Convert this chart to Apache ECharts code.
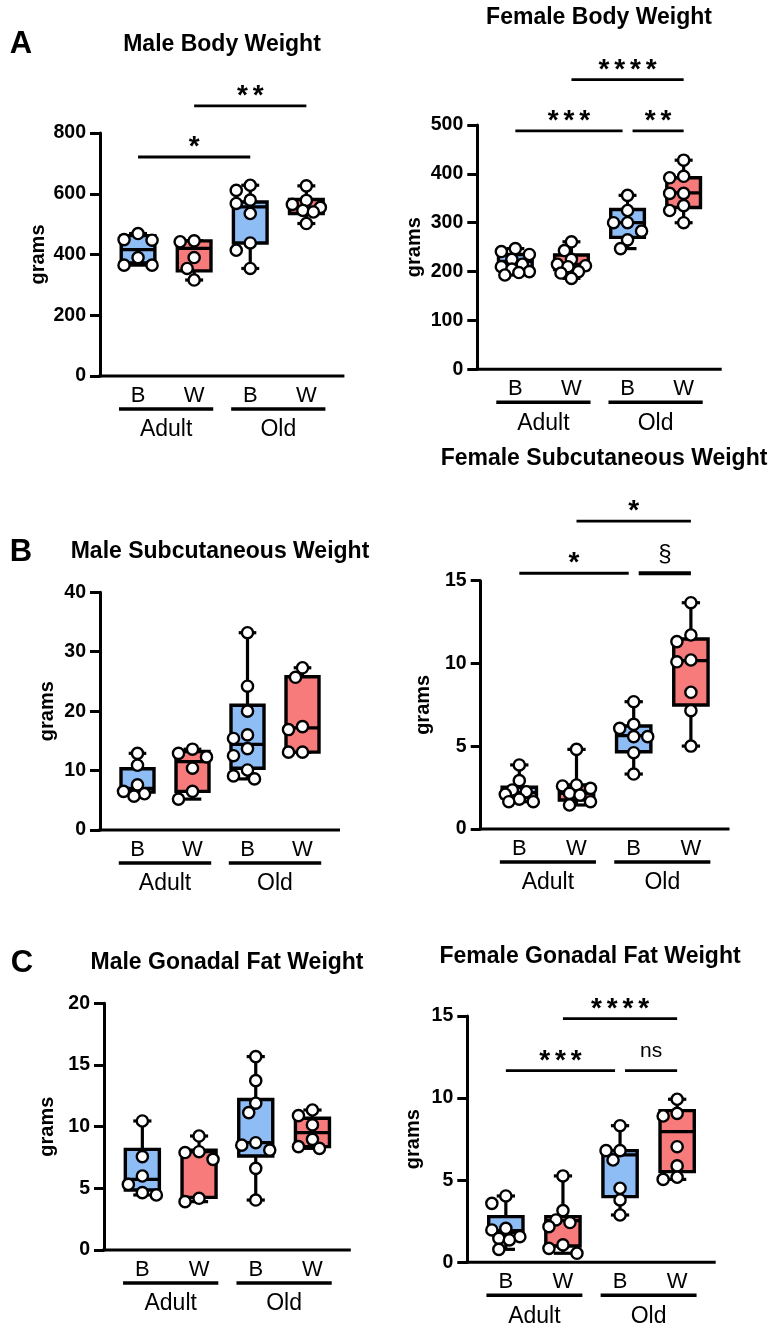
<!DOCTYPE html>
<html><head><meta charset="utf-8">
<script src="https://cdn.jsdelivr.net/npm/echarts@6/dist/echarts.min.js"></script>
<style>html,body{margin:0;padding:0;background:#fff}#c{width:778px;height:1329px}</style>
</head><body><div id="c"></div>
<script>
// ---------- data ----------
const categories = ['B', 'W', 'B', 'W'];
const ageGroups = ['Adult', 'Old'];

// box stats: [min, Q1, median, Q3, max]
const maleBodyTicks = [0, 200, 400, 600, 800];
const maleBodyBox = [[365, 372, 416, 462, 469], [316, 346, 420, 445, 445], [354, 438, 557, 573, 628], [502, 535, 555, 581, 626]];
const maleBodyPts = [[469, 449, 447, 390, 365, 365], [445, 442, 390, 354, 316], [628, 611, 579, 568, 535, 438, 414, 354], [626, 578, 565, 555, 545, 540, 502]];
const maleBodySig = [{from: 0, to: 2, label: '*', y: 721}, {from: 1, to: 3, label: '**', y: 889}];

const femaleBodyTicks = [0, 100, 200, 300, 400, 500];
const femaleBodyBox = [[193, 210, 221, 235, 247], [186, 204, 215, 234, 261], [247, 270, 300, 327, 356], [300, 331, 361, 392, 428]];
const femaleBodyPts = [[247, 241, 235, 225, 215, 210, 205, 200, 198, 193], [261, 243, 225, 215, 212, 210, 200, 197, 186], [356, 325, 300, 300, 283, 265, 247], [428, 395, 392, 360, 360, 335, 325, 300]];
const femaleBodySig = [{from: 0, to: 2, label: '***', y: 488}, {from: 2, to: 3, label: '**', y: 488}, {from: 1, to: 3, label: '****', y: 593}];

const maleSubQTicks = [0, 10, 20, 30, 40];
const maleSubQBox = [[5.7, 6.4, 7.0, 10.3, 12.9], [5.2, 6.5, 11.5, 13.2, 13.6], [8.6, 10.4, 14.4, 21.0, 33.2], [13.1, 13.1, 17.2, 25.8, 27.3]];
const maleSubQPts = [[12.9, 10.9, 7.6, 6.5, 6.1, 5.7], [13.6, 12.9, 12.3, 10.4, 6.5, 5.2], [33.2, 24.2, 20.0, 16.0, 15.4, 13.7, 12.5, 10.1, 9.1, 8.6], [27.3, 25.7, 17.4, 16.9, 13.1, 13.1]];
const maleSubQSig = [];

const femaleSubQTicks = [0, 5, 10, 15];
const femaleSubQBox = [[1.65, 1.89, 2.2, 2.52, 3.87], [1.45, 1.75, 2.15, 2.66, 4.81], [3.32, 4.67, 5.64, 6.22, 7.69], [5.01, 7.49, 10.17, 11.48, 13.67]];
const femaleSubQPts = [[3.87, 2.92, 2.36, 2.25, 2.1, 1.8, 1.65, 1.65], [4.81, 2.66, 2.6, 2.46, 2.15, 2.05, 1.65, 1.45], [7.69, 6.32, 6.08, 5.58, 5.58, 4.61, 3.32], [13.67, 11.72, 11.32, 10.21, 10.1, 8.26, 7.15, 5.01]];
const femaleSubQSig = [{from: 0, to: 2, label: '*', y: 15.45}, {from: 2, to: 3, label: '§', y: 15.45}, {from: 1, to: 3, label: '*', y: 18.6}];

const maleGonTicks = [0, 5, 10, 15, 20];
const maleGonBox = [[4.46, 4.86, 5.73, 8.16, 10.46], [3.92, 4.27, 7.97, 8.1, 9.24], [4.05, 7.62, 8.7, 12.2, 15.68], [8.24, 8.38, 9.51, 10.68, 11.35]];
const maleGonPts = [[10.46, 7.57, 6.0, 5.32, 4.65, 4.46], [9.24, 7.97, 7.9, 7.35, 4.19, 3.92], [15.68, 13.73, 11.9, 11.14, 8.7, 8.5, 8.1, 6.62, 4.05], [11.35, 10.89, 10.14, 8.97, 8.38, 8.24]];
const maleGonSig = [];

const femaleGonTicks = [0, 5, 10, 15];
const femaleGonBox = [[0.79, 1.81, 1.93, 2.78, 4.04], [0.55, 0.99, 2.54, 2.78, 5.26], [2.88, 4.0, 6.54, 6.8, 8.32], [5.05, 5.52, 7.96, 9.24, 9.93]];
const femaleGonPts = [[4.04, 3.59, 2.07, 1.97, 1.56, 1.46, 1.36, 0.79], [5.26, 3.15, 2.58, 2.42, 2.17, 1.06, 0.85, 0.55], [8.32, 6.8, 6.8, 6.23, 4.51, 3.8, 2.88], [9.93, 9.07, 8.91, 7.04, 5.87, 5.18, 5.05]];
const femaleGonSig = [{from: 0, to: 2, label: '***', y: 11.67}, {from: 2, to: 3, label: 'ns', y: 11.67}, {from: 1, to: 3, label: '****', y: 14.84}];

// ---------- layout / style ----------
const FONT = '"Liberation Sans", Arial, Helvetica, sans-serif';
const colors = ['#8ebdf6', '#f77b7b', '#8ebdf6', '#f77b7b'];
const panels = [
  {title: 'Male Body Weight', box: maleBodyBox, pts: maleBodyPts, ticks: maleBodyTicks, sig: maleBodySig,
   grid: {left: 110, top: 133, width: 224.4, height: 243}, nameGap: 52, tx: 222, ty: 45},
  {title: 'Female Body Weight', box: femaleBodyBox, pts: femaleBodyPts, ticks: femaleBodyTicks, sig: femaleBodySig,
   grid: {left: 487.3, top: 125, width: 224.4, height: 244.3}, nameGap: 53, tx: 599, ty: 18},
  {title: 'Male Subcutaneous Weight', box: maleSubQBox, pts: maleSubQPts, ticks: maleSubQTicks, sig: maleSubQSig,
   grid: {left: 110, top: 592.3, width: 220, height: 237.7}, nameGap: 43, tx: 220, ty: 552},
  {title: 'Female Subcutaneous Weight', box: femaleSubQBox, pts: femaleSubQPts, ticks: femaleSubQTicks, sig: femaleSubQSig,
   grid: {left: 490.7, top: 580.7, width: 228.8, height: 248.3}, nameGap: 47, tx: 604, ty: 459},
  {title: 'Male Gonadal Fat Weight', box: maleGonBox, pts: maleGonPts, ticks: maleGonTicks, sig: maleGonSig,
   grid: {left: 114, top: 1003.3, width: 226.8, height: 246.7}, nameGap: 47, tx: 227, ty: 963},
  {title: 'Female Gonadal Fat Weight', box: femaleGonBox, pts: femaleGonPts, ticks: femaleGonTicks, sig: femaleGonSig,
   grid: {left: 477.3, top: 1016, width: 228.4, height: 246.3}, nameGap: 44, tx: 590, ty: 957}
];
const letters = [{t: 'A', x: 21, y: 44}, {t: 'B', x: 21, y: 552}, {t: 'C', x: 22, y: 963}];

function boxRender(params, api) {
  const cat = api.value(0);
  const band = api.size([1, 0])[0];
  const bw = band * 0.6, cw = band * 0.32;
  const pMin = api.coord([cat, api.value(1)]);
  const pQ1 = api.coord([cat, api.value(2)]);
  const pMd = api.coord([cat, api.value(3)]);
  const pQ3 = api.coord([cat, api.value(4)]);
  const pMax = api.coord([cat, api.value(5)]);
  const x = pMd[0];
  const ls = {stroke: '#000', lineWidth: 3.2};
  return {type: 'group', children: [
    {type: 'line', shape: {x1: x, y1: pMax[1], x2: x, y2: pQ3[1]}, style: ls},
    {type: 'line', shape: {x1: x, y1: pQ1[1], x2: x, y2: pMin[1]}, style: ls},
    {type: 'line', shape: {x1: x - cw / 2, y1: pMax[1], x2: x + cw / 2, y2: pMax[1]}, style: ls},
    {type: 'line', shape: {x1: x - cw / 2, y1: pMin[1], x2: x + cw / 2, y2: pMin[1]}, style: ls},
    {type: 'rect', shape: {x: x - bw / 2, y: pQ3[1], width: bw, height: pQ1[1] - pQ3[1]}, style: {fill: colors[cat], stroke: '#000', lineWidth: 3.4}},
    {type: 'line', shape: {x1: x - bw / 2, y1: pMd[1], x2: x + bw / 2, y2: pMd[1]}, style: ls}
  ]};
}

function makePointRender() {
  let placed = {};
  return function (params, api) {
    if (params.dataIndex === 0) placed = {};
    const cat = api.value(0), v = api.value(1);
    const p = api.coord([cat, v]);
    const list = placed[cat] || (placed[cat] = []);
    const offs = [0, -7, 7, -14, 14, -3.5, 3.5, -10.5, 10.5];
    let best = 0, bestD = -1;
    for (const o of offs) {
      const d = list.length ? Math.min(...list.map(q => Math.hypot(q[0] - (p[0] + o), q[1] - p[1]))) : 1e9;
      if (d >= 11) { best = o; bestD = d; break; }
      if (d > bestD) { bestD = d; best = o; }
    }
    list.push([p[0] + best, p[1]]);
    return {type: 'circle', shape: {cx: p[0] + best, cy: p[1], r: 5.6}, style: {fill: '#fff', stroke: '#000', lineWidth: 2.4}};
  };
}

function makeDecor(sig) {
  return function (params, api) {
    const band = api.size([1, 0])[0];
    const c = [0, 1, 2, 3].map(i => api.coord([i, 0]));
    const y0 = c[0][1];
    const ch = [];
    ch.push({type: 'line', shape: {x1: c[0][0] - band / 2 - 11.5, y1: y0, x2: c[3][0] + band / 2 + 10, y2: y0}, style: {stroke: '#000', lineWidth: 3}});
    ageGroups.forEach((g, gi) => {
      const a = c[gi * 2][0] - band * 0.34, b = c[gi * 2 + 1][0] + band * 0.34;
      ch.push({type: 'line', shape: {x1: a, y1: y0 + 33, x2: b, y2: y0 + 33}, style: {stroke: '#000', lineWidth: 3.6}});
      ch.push({type: 'text', x: (a + b) / 2, y: y0 + 54, style: {text: g, fill: '#000', font: '23px ' + FONT, textAlign: 'center', textVerticalAlign: 'middle'}});
    });
    sig.forEach(s => {
      const yy = api.coord([0, s.y])[1];
      let x1 = c[s.from][0], x2 = c[s.to][0];
      if (sig.some(o => o !== s && o.y === s.y && o.to === s.from)) x1 += 5;
      if (sig.some(o => o !== s && o.y === s.y && o.from === s.to)) x2 -= 5;
      ch.push({type: 'line', shape: {x1: x1, y1: yy, x2: x2, y2: yy}, style: {stroke: '#000', lineWidth: s.label === '§' ? 4 : 2.8}});
      const mid = (x1 + x2) / 2;
      if (/^\*+$/.test(s.label)) {
        const n = s.label.length, pitch = 15.7;
        for (let i = 0; i < n; i++) {
          ch.push({type: 'text', x: mid + (i - (n - 1) / 2) * pitch, y: yy - 9.5, style: {text: '*', fill: '#000', font: 'bold 28px ' + FONT, textAlign: 'center', textVerticalAlign: 'middle'}});
        }
      } else {
        ch.push({type: 'text', x: mid, y: yy - 19, style: {text: s.label, fill: '#000', font: (s.label === '§' ? '24px ' : '21px ') + FONT, textAlign: 'center', textVerticalAlign: 'middle'}});
      }
    });
    return {type: 'group', children: ch};
  };
}

const option = {animation: false, backgroundColor: '#fff', grid: [], xAxis: [], yAxis: [], series: [], graphic: []};
panels.forEach((p, i) => {
  option.grid.push(Object.assign({containLabel: false}, p.grid));
  option.xAxis.push({type: 'category', gridIndex: i, data: categories, boundaryGap: true,
    axisLine: {show: false}, axisTick: {show: false},
    axisLabel: {fontSize: 22, color: '#000', fontFamily: FONT, margin: 9}});
  const t = p.ticks;
  option.yAxis.push({type: 'value', gridIndex: i, min: t[0], max: t[t.length - 1], interval: t[1] - t[0], offset: 10,
    name: 'grams', nameLocation: 'middle', nameGap: p.nameGap, nameRotate: 90,
    nameTextStyle: {fontSize: 20, fontWeight: 'bold', color: '#000', fontFamily: FONT},
    axisLine: {show: true, lineStyle: {color: '#000', width: 3}},
    axisTick: {show: true, length: 10, lineStyle: {color: '#000', width: 3}},
    axisLabel: {fontSize: 19.5, fontWeight: 'bold', color: '#000', fontFamily: FONT, margin: 14},
    splitLine: {show: false}});
  option.series.push({type: 'custom', xAxisIndex: i, yAxisIndex: i, z: 1, clip: false,
    renderItem: makeDecor(p.sig), data: [[0, 0]], silent: true});
  option.series.push({type: 'custom', xAxisIndex: i, yAxisIndex: i, z: 2, clip: false,
    renderItem: boxRender, data: p.box.map((b, ci) => [ci].concat(b)), silent: true});
  const pts = [];
  p.pts.forEach((arr, ci) => arr.forEach(v => pts.push([ci, v])));
  option.series.push({type: 'custom', xAxisIndex: i, yAxisIndex: i, z: 3, clip: false,
    renderItem: makePointRender(), data: pts, silent: true});
  option.graphic.push({type: 'text', x: p.tx, y: p.ty, style: {text: p.title, fill: '#000', font: 'bold 23px ' + FONT, textAlign: 'center', textVerticalAlign: 'middle'}});
});
letters.forEach(l => option.graphic.push({type: 'text', x: l.x, y: l.y, style: {text: l.t, fill: '#000', font: 'bold 31px ' + FONT, textAlign: 'center', textVerticalAlign: 'middle'}}));

const chart = echarts.init(document.getElementById('c'), null, {renderer: 'canvas', width: 778, height: 1329});
chart.setOption(option);
</script></body></html>
